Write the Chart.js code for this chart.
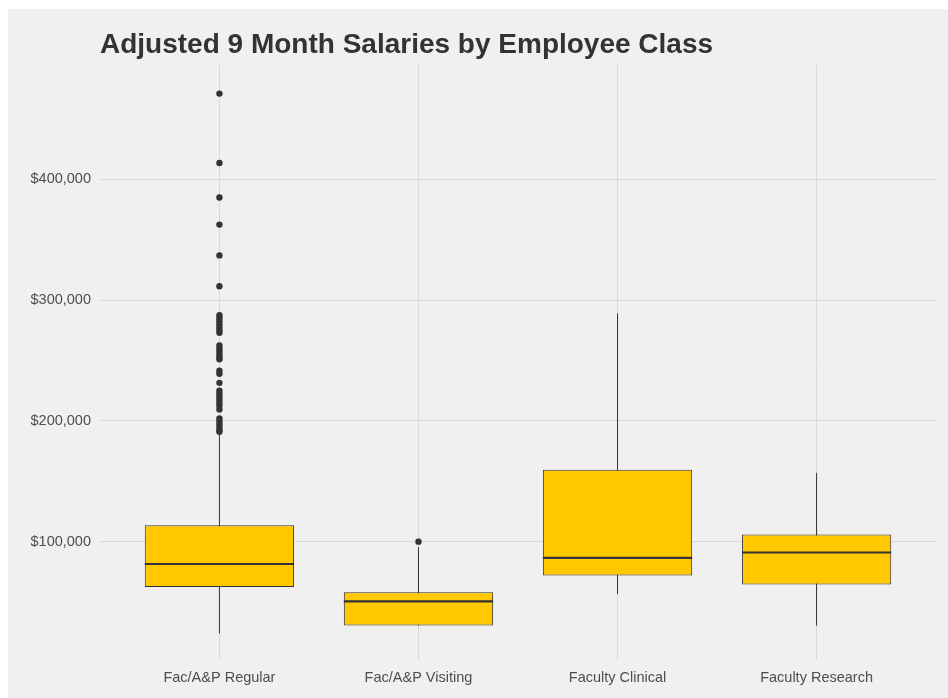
<!DOCTYPE html>
<html>
<head>
<meta charset="utf-8">
<title>Adjusted 9 Month Salaries by Employee Class</title>
<script src="https://cdn.jsdelivr.net/npm/chart.js@4.4.1/dist/chart.umd.min.js"></script>
<style>
  html, body { margin: 0; padding: 0; background: #ffffff; }
  #wrap { position: absolute; left: 8px; top: 9px; width: 940px; height: 689px; background: #f0f0f0; }
</style>
</head>
<body>
<div id="wrap"><canvas id="chart"></canvas></div>
<script>
// Box plot summary per employee class
const categories = ['Fac/A&P Regular', 'Fac/A&P Visiting', 'Faculty Clinical', 'Faculty Research'];
const whiskerLow = [24000, 30500, 56500, 30500];
const q1 = [62500, 30600, 72000, 64500];
const median = [81500, 50500, 86500, 91000];
const q3 = [113500, 58000, 159500, 106000];
const whiskerHigh = [189000, 95500, 289000, 157000];

// Outliers (Fac/A&P Regular, Fac/A&P Visiting)
const outliersRegular = [
    471000, 413500, 385000, 362500, 337000, 311500,
    287500, 285000, 282500, 280000, 277500, 275000, 273000,
    262500, 260000, 257500, 255000, 252500, 251000,
    241500, 239000, 231500,
    225000, 222500, 220000, 217500, 215000, 212500, 209500,
    202000, 199500, 197000, 194500, 192000, 191000
];
const outliersVisiting = [100000];

const yTicks = [100000, 200000, 300000, 400000];

const font = "'Liberation Sans', Arial, sans-serif";
const textColor = '#4d4d4d';
const gridColor = '#d9d9d9';
const boxHalf = 0.375;

// build the datasets from the arrays above
const boxData = categories.map((c, i) => ({ x: i, y: [q1[i], q3[i]] }));

const whiskerData = [];
categories.forEach((c, i) => {
    whiskerData.push({ x: i, y: whiskerLow[i] }, { x: i, y: whiskerHigh[i] }, { x: i, y: null });
});

const medianData = [];
categories.forEach((c, i) => {
    medianData.push({ x: i - boxHalf, y: median[i] }, { x: i + boxHalf, y: median[i] }, { x: i, y: null });
});

const outlierData = outliersRegular.map(v => ({ x: 0, y: v }))
    .concat(outliersVisiting.map(v => ({ x: 1, y: v })));

const ctx = document.getElementById('chart').getContext('2d');
new Chart(ctx, {
    type: 'bar',
    data: {
        datasets: [
            {
                type: 'scatter',
                data: outlierData,
                pointRadius: 3.2,
                pointBackgroundColor: '#333333',
                pointBorderWidth: 0,
                order: 0
            },
            {
                type: 'line',
                data: medianData,
                borderColor: '#333333',
                borderWidth: 2.2,
                pointRadius: 0,
                spanGaps: false,
                order: 1
            },
            {
                type: 'bar',
                data: boxData,
                backgroundColor: '#ffc800',
                borderColor: '#333333',
                borderWidth: 1,
                borderSkipped: false,
                categoryPercentage: 1,
                barPercentage: 0.75,
                order: 2
            },
            {
                type: 'line',
                data: whiskerData,
                borderColor: '#333333',
                borderWidth: 1,
                pointRadius: 0,
                spanGaps: false,
                order: 3
            }
        ]
    },
    options: {
        responsive: true,
        maintainAspectRatio: false,
        animation: false,
        devicePixelRatio: 1,
        layout: { padding: { top: 0, right: 12, bottom: 0, left: 0 } },
        plugins: {
            legend: { display: false },
            tooltip: { enabled: false },
            title: {
                display: true,
                text: 'Adjusted 9 Month Salaries by Employee Class',
                align: 'start',
                fullSize: false,
                color: '#333333',
                font: { family: font, size: 28, weight: 'bold' },
                padding: { top: 19, bottom: 3 }
            }
        },
        scales: {
            x: {
                type: 'linear',
                min: -0.6,
                max: 3.6,
                offset: false,
                afterBuildTicks: s => { s.ticks = categories.map((c, i) => ({ value: i })); },
                afterFit: s => { s.height = 38; },
                grid: { color: gridColor, lineWidth: 1, drawTicks: false, offset: false },
                border: { display: false },
                ticks: {
                    padding: 9,
                    color: textColor,
                    font: { family: font, size: 14.5 },
                    callback: v => categories[v]
                }
            },
            y: {
                min: 2000,
                max: 495000,
                afterBuildTicks: s => { s.ticks = yTicks.map(v => ({ value: v })); },
                afterFit: s => { s.width = 92; },
                grid: { color: gridColor, lineWidth: 1, drawTicks: false },
                border: { display: false },
                ticks: {
                    padding: 9,
                    color: textColor,
                    font: { family: font, size: 14.5 },
                    callback: v => '$' + v.toLocaleString('en-US')
                }
            }
        }
    }
});
</script>
</body>
</html>
